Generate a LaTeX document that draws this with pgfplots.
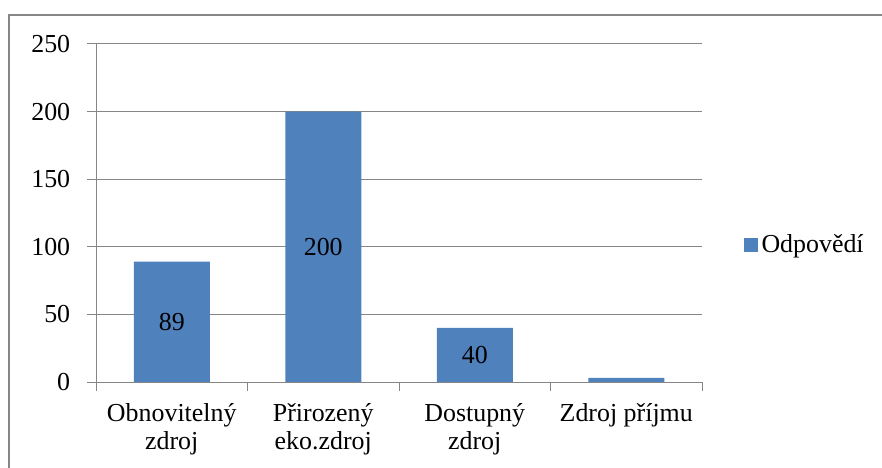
\documentclass[border=0pt]{standalone}
\usepackage{fontspec}
\setmainfont{Liberation Serif}
\usepackage{pgfplots}
\pgfplotsset{compat=1.18}
\definecolor{barBlue}{HTML}{4F81BD}
\definecolor{axisGray}{HTML}{868686}

\begin{document}
\begin{tikzpicture}
\fontsize{26}{28}\selectfont
% canvas and outer frame (left and top edges visible)
\path[use as bounding box] (0,0) rectangle (882bp,468bp);
\draw[axisGray, line width=1.3bp] (9bp,0) -- (9bp,453bp) -- (882bp,453bp);

\begin{axis}[
    at={(96bp,86bp)}, anchor=south west,
    scale only axis,
    width=606bp, height=338bp,
    xmin=-0.5, xmax=3.5,
    ymin=0, ymax=250,
    ytick={0,50,100,150,200,250},
    xtick={0,1,2,3},
    xticklabels={{Obnovitelný\\zdroj},{Přirozený\\eko.zdroj},{Dostupný\\zdroj},{Zdroj příjmu}},
    minor xtick={-0.5,0.5,1.5,2.5,3.5},
    axis x line*=bottom, axis y line*=left,
    axis line style={axisGray, line width=1bp, -},
    ymajorgrids,
    grid style={axisGray, line width=1bp},
    tick align=outside,
    major tick length=9bp, minor tick length=9bp,
    x tick style={draw=none},
    minor x tick style={axisGray, line width=1bp, draw=axisGray},
    y tick style={axisGray, line width=1bp},
    ticklabel style={font=\fontsize{26}{28}\selectfont},
    xticklabel style={align=center, yshift=-4bp},
    yticklabel style={xshift=-8bp},
    /pgf/number format/assume math mode=true,
    legend style={at={(1.069,0.405)}, anchor=west, draw=none, fill=none,
        inner sep=0pt, font=\fontsize{26}{28}\selectfont,
        nodes={inner sep=3.5bp}},
    legend image code/.code={\fill[barBlue] (0bp,-7bp) rectangle (14bp,7bp);},
]
\addplot[ybar, bar width=76bp, fill=barBlue, draw=none, bar shift=0pt]
    coordinates {(0,89) (1,200) (2,40) (3,3)};
\addlegendentry{Odpovědí}

% data labels, centred inside the bars
\addplot[draw=none, mark=none, forget plot, nodes near coords,
    point meta=explicit symbolic,
    every node near coord/.style={anchor=center, font=\fontsize{26}{28}\selectfont}]
    coordinates {(0,44.5)[89] (1,100)[200] (2,20)[40]};
\end{axis}
\end{tikzpicture}
\end{document}
